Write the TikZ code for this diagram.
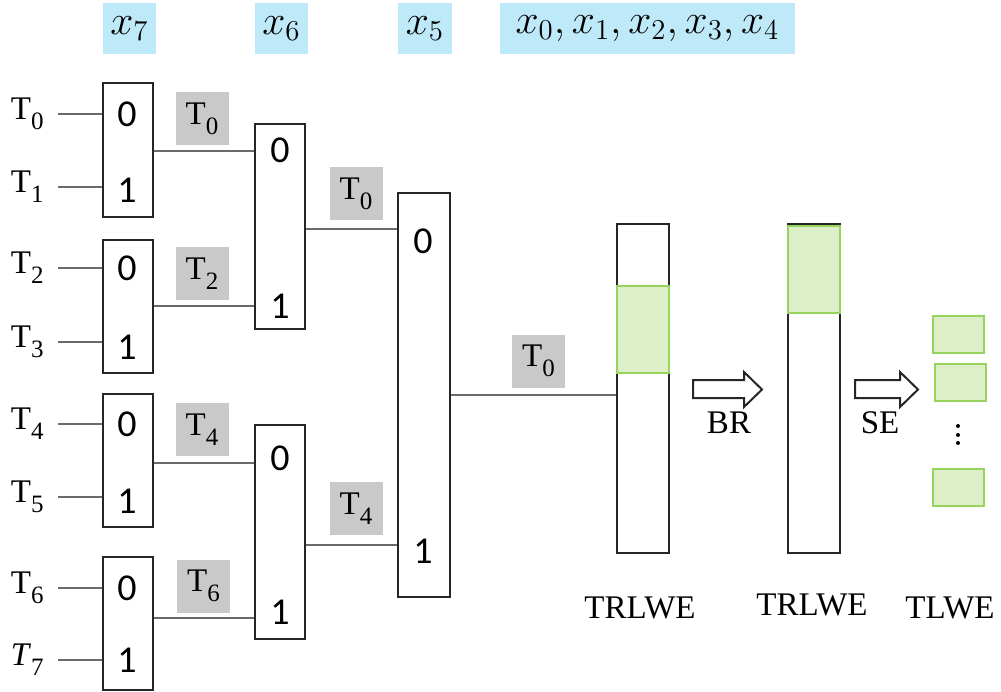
\documentclass[tikz,border=0pt]{standalone}
\usepackage{fontspec}
\setmainfont{Liberation Serif}
\newfontfamily\digitfont{Carlito}
\definecolor{grayfill}{HTML}{C9C9C9}
\definecolor{bluefill}{HTML}{BEE9F8}
\definecolor{greenfill}{HTML}{DDEFC8}
\definecolor{greenline}{HTML}{96D45E}
\definecolor{wiregray}{HTML}{6A6A6A}
% T with a subscript index
\newcommand{\Tsub}[2][T]{#1\raisebox{-0.3em}{\fontsize{12.5}{13}\selectfont #2}}
\begin{document}
\begin{tikzpicture}[x=0.5pt,y=-0.5pt,
  muxbox/.style={draw=black!85, line width=1pt, fill=white, minimum width=25pt, inner sep=0pt},
  wire/.style={draw=wiregray, line width=0.75pt},
  pinlbl/.style={font=\digitfont\fontsize{19}{19}\selectfont, inner sep=0pt},
  tlabel/.style={font=\fontsize{16.5}{18}\selectfont, inner sep=0pt},
  inlbl/.style={tlabel, anchor=east, inner xsep=7pt},
  graylbl/.style={fill=grayfill, minimum width=26.5pt, minimum height=26.5pt, inner sep=0pt, font=\fontsize{16.5}{18}\selectfont},
  varlbl/.style={fill=bluefill, minimum height=25.5pt, inner sep=0pt, font=\fontsize{22}{24}\selectfont},
  cipher/.style={draw=black!85, line width=1pt, minimum width=26pt, minimum height=164.5pt, inner sep=0pt},
  slot/.style={draw=greenline, fill=greenfill, line width=1pt},
  blockarrow/.style={draw=black!85, line width=1pt, fill=white, line join=miter}
]
\useasboundingbox (0,0) rectangle (1001,691);

% selector variables
\node[varlbl, minimum width=26.5pt] (v7) at (129.5,28.5) {$x_7$};
\node[varlbl, minimum width=26.5pt] (v6) at (281.5,28.5) {$x_6$};
\node[varlbl, minimum width=27pt] (v5) at (425,28.5) {$x_5$};
\node[varlbl, minimum width=147.5pt] (v04) at (647.5,28.5) {$x_0,x_1,x_2,x_3,x_4$};

% first layer of multiplexers
\node[muxbox, minimum height=67pt] (m1) at (128,150) {};
\node[muxbox, minimum height=66.5pt] (m2) at (128,306.5) {};
\node[muxbox, minimum height=66.5pt] (m3) at (128,460.5) {};
\node[muxbox, minimum height=66.5pt] (m4) at (128,623.5) {};
% second layer
\node[muxbox, minimum height=102.5pt] (mA) at (280,226.5) {};
\node[muxbox, minimum height=107pt] (mB) at (280,532) {};
% third layer
\node[muxbox, minimum width=26pt, minimum height=202pt] (mC) at (424,395) {};

% selector pins
\foreach \y in {114, 268, 424, 588}
  \node[pinlbl] at (127,\y) {0};
\foreach \y in {190, 347, 501, 660}
  \node[pinlbl] at (127,\y) {1};
\node[pinlbl] at (280,150) {0};
\node[pinlbl] at (280,306) {1};
\node[pinlbl] at (280,458) {0};
\node[pinlbl] at (280,612) {1};
\node[pinlbl] at (423,241) {0};
\node[pinlbl] at (423,551) {1};

% inputs
\node[inlbl] (t0) at (58,114) {\Tsub{0}};
\node[inlbl] (t1) at (58,187) {\Tsub{1}};
\node[inlbl] (t2) at (58,268) {\Tsub{2}};
\node[inlbl] (t3) at (58,342) {\Tsub{3}};
\node[inlbl] (t4) at (58,424) {\Tsub{4}};
\node[inlbl] (t5) at (58,497) {\Tsub{5}};
\node[inlbl] (t6) at (58,588) {\Tsub{6}};
\node[inlbl] (t7) at (58,660) {\Tsub[\textit{T}]{7}};
\draw[wire] (t0) -- (m1.west |- t0);
\draw[wire] (t1) -- (m1.west |- t1);
\draw[wire] (t2) -- (m2.west |- t2);
\draw[wire] (t3) -- (m2.west |- t3);
\draw[wire] (t4) -- (m3.west |- t4);
\draw[wire] (t5) -- (m3.west |- t5);
\draw[wire] (t6) -- (m4.west |- t6);
\draw[wire] (t7) -- (m4.west |- t7);

% intermediate wires
\draw[wire] (m1.east |- 0,151) -- (mA.west |- 0,151);
\draw[wire] (m2.east |- 0,306) -- (mA.west |- 0,306);
\draw[wire] (m3.east |- 0,463) -- (mB.west |- 0,463);
\draw[wire] (m4.east |- 0,618) -- (mB.west |- 0,618);
\draw[wire] (mA.east |- 0,229) -- (mC.west |- 0,229);
\draw[wire] (mB.east |- 0,545) -- (mC.west |- 0,545);

% selected values
\node[graylbl] (s1) at (202,118.5) {\Tsub{0}};
\node[graylbl] (s2) at (202,273.5) {\Tsub{2}};
\node[graylbl] (s3) at (202,429.5) {\Tsub{4}};
\node[graylbl] (s4) at (203.5,586) {\Tsub{6}};
\node[graylbl] (sA) at (356,193.5) {\Tsub{0}};
\node[graylbl] (sB) at (356,508.5) {\Tsub{4}};
\node[graylbl] (sC) at (538.5,361) {\Tsub{0}};

% ciphertexts
\node[cipher] (r1) at (643,388.5) {};
\node[cipher] (r2) at (814,388.5) {};
\draw[wire] (mC.east) -- (mC.east -| r1.west);
\fill[slot] (617,286) rectangle (669,373);
\fill[slot] (788,226) rectangle (840,313);

% blind rotation and sample extraction arrows
\draw[blockarrow] (693,380) -- (744,380) -- (744,372) -- (762,389.5) -- (744,407) -- (744,398) -- (693,398) -- cycle;
\draw[blockarrow] (855,380) -- (900,380) -- (900,372) -- (918,389.5) -- (900,407) -- (900,398) -- (855,398) -- cycle;
\node[tlabel] (br) at (729,423) {BR};
\node[tlabel] (se) at (880,423) {SE};

% extracted samples
\draw[slot] (933,316) rectangle (984,353);
\draw[slot] (935,364) rectangle (986,401);
\draw[slot] (933,469) rectangle (984,506);
\foreach \y in {426,435,443}
  \fill (958,\y) circle (2);

% captions
\node[tlabel] (c1) at (640,608) {TRLWE};
\node[tlabel] (c2) at (812,605) {TRLWE};
\node[tlabel] (c3) at (950,608) {TLWE};
\end{tikzpicture}
\end{document}
